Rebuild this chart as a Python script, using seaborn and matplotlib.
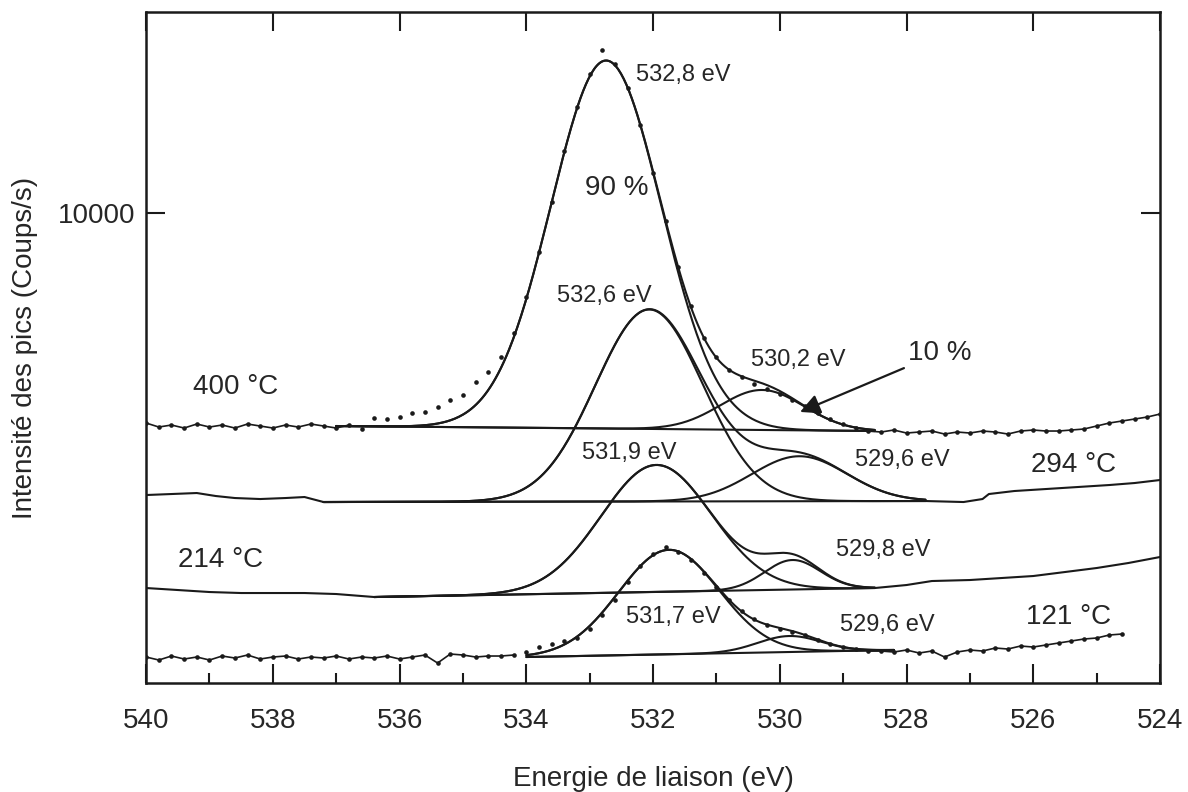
import numpy as np
import seaborn as sns
import matplotlib.pyplot as plt

# ---------------- data (binding energy in eV, intensity in counts/s) ----------------
# 400 °C : measured points
e_400 = np.linspace(540.0, 524.0, 81)
c_400 = [5800, 5720, 5760, 5700, 5780, 5720, 5760, 5700, 5780, 5740,
         5700, 5760, 5720, 5780, 5740, 5700, 5760, 5680, 5900, 5880,
         5920, 6000, 6020, 6120, 6260, 6360, 6620, 6820, 7120, 7600,
         8320, 9220, 10220, 11240, 12120, 12780, 13260, 12980, 12500, 11760,
         10800, 9840, 8920, 8140, 7500, 7120, 6860, 6720, 6580, 6480,
         6380, 6260, 6140, 6000, 5880, 5780, 5700, 5640, 5620, 5660,
         5600, 5620, 5640, 5580, 5620, 5600, 5640, 5620, 5580, 5640,
         5660, 5640, 5640, 5660, 5680, 5740, 5800, 5840, 5880, 5920,
         5980]
# 400 °C : fit (linear background + gaussian components)
base_e_400 = [537.0, 528.5]
base_c_400 = [5740, 5640]
pk_e_400 = [532.74, 530.28]
pk_h_400 = [7360, 800]
pk_w_400 = [0.87, 0.66]

# 294 °C : recorded spectrum outside the fit window
e_294_left = [540.0, 539.6, 539.2, 538.9, 538.6, 538.2, 537.8, 537.5, 537.2]
c_294_left = [4360, 4380, 4400, 4340, 4300, 4280, 4300, 4320, 4220]
e_294_right = [527.7, 527.1, 526.8, 526.7, 526.3, 525.8, 525.3, 524.8, 524.4, 524.0]
c_294_right = [4240, 4220, 4280, 4380, 4440, 4480, 4520, 4560, 4600, 4660]
base_e_294 = [537.2, 527.7]
base_c_294 = [4220, 4240]
pk_e_294 = [532.06, 529.69]
pk_h_294 = [3840, 900]
pk_w_294 = [0.85, 0.75]

# 214 °C
e_214_left = [540.0, 539.5, 539.0, 538.5, 538.0, 537.5, 537.0, 536.6, 536.4]
c_214_left = [2500, 2460, 2420, 2400, 2400, 2400, 2380, 2340, 2320]
e_214_right = [528.5, 528.0, 527.6, 527.0, 526.5, 526.0, 525.5, 525.0, 524.5, 524.0]
c_214_right = [2500, 2560, 2640, 2660, 2700, 2740, 2820, 2900, 3000, 3120]
base_e_214 = [536.4, 528.5]
base_c_214 = [2320, 2500]
pk_e_214 = [531.95, 529.80]
pk_h_214 = [2540, 590]
pk_w_214 = [0.87, 0.44]

# 121 °C : measured points
e_121 = np.linspace(540.0, 524.6, 78)
c_121 = [1120, 1060, 1140, 1080, 1120, 1060, 1140, 1100, 1160, 1080,
         1120, 1140, 1080, 1120, 1100, 1140, 1080, 1120, 1100, 1140,
         1080, 1120, 1160, 1000, 1180, 1160, 1120, 1140, 1140, 1160,
         1220, 1320, 1380, 1440, 1500, 1680, 1960, 2260, 2620, 2940,
         3180, 3320, 3220, 3060, 2800, 2520, 2260, 2040, 1880, 1760,
         1680, 1620, 1560, 1460, 1380, 1320, 1280, 1240, 1240, 1220,
         1260, 1200, 1240, 1120, 1220, 1260, 1240, 1300, 1280, 1340,
         1320, 1360, 1400, 1440, 1480, 1500, 1560, 1580]
base_e_121 = [534.0, 528.2]
base_c_121 = [1120, 1260]
pk_e_121 = [531.75, 529.85]
pk_h_121 = [2090, 320]
pk_w_121 = [0.79, 0.50]

# ---------------- drawing ----------------
sns.set_theme(style='ticks')
plt.rcParams['font.family'] = ['Liberation Sans', 'DejaVu Sans']
LW = 1.5


def gauss(e, c, h, w):
    return h * np.exp(-0.5 * ((e - c) / w) ** 2)


def draw_fit(ax, be, bc, pe, ph, pw):
    grid = np.linspace(be[0], be[1], 400)
    bg = np.interp(grid, be[::-1], bc[::-1])
    comps = [gauss(grid, c, h, w) for c, h, w in zip(pe, ph, pw)]
    sns.lineplot(x=be, y=bc, ax=ax, color='k', lw=LW, sort=False, estimator=None)
    for comp in comps:
        sns.lineplot(x=grid, y=bg + comp, ax=ax, color='k', lw=LW, sort=False, estimator=None)
    sns.lineplot(x=grid, y=bg + np.sum(comps, axis=0), ax=ax, color='k', lw=LW,
                 sort=False, estimator=None)


def draw_line(ax, e, c, lw=LW):
    sns.lineplot(x=e, y=c, ax=ax, color='k', lw=lw, sort=False, estimator=None)


fig, ax = plt.subplots(figsize=(11.88, 7.92), dpi=100)
fig.subplots_adjust(left=0.123, right=0.9764, bottom=0.1376, top=0.9848)

# 400 °C
e4 = np.asarray(e_400)
c4 = np.asarray(c_400)
draw_fit(ax, base_e_400, base_c_400, pk_e_400, pk_h_400, pk_w_400)
draw_line(ax, e4[e4 >= 536.75], c4[e4 >= 536.75], 1.2)
draw_line(ax, e4[e4 <= 528.65], c4[e4 <= 528.65], 1.2)
sns.scatterplot(x=e4, y=c4, ax=ax, color='k', s=11, linewidth=0)

# 294 °C
draw_fit(ax, base_e_294, base_c_294, pk_e_294, pk_h_294, pk_w_294)
draw_line(ax, e_294_left, c_294_left)
draw_line(ax, e_294_right, c_294_right)

# 214 °C
draw_fit(ax, base_e_214, base_c_214, pk_e_214, pk_h_214, pk_w_214)
draw_line(ax, e_214_left, c_214_left)
draw_line(ax, e_214_right, c_214_right)

# 121 °C
e1 = np.asarray(e_121)
c1 = np.asarray(c_121)
draw_fit(ax, base_e_121, base_c_121, pk_e_121, pk_h_121, pk_w_121)
draw_line(ax, e1[e1 >= 534.15], c1[e1 >= 534.15], 1.2)
draw_line(ax, e1[e1 <= 528.65], c1[e1 <= 528.65], 1.2)
sns.scatterplot(x=e1, y=c1, ax=ax, color='k', s=11, linewidth=0)

# annotations
small = 17
big = 20
ax.text(532.27, 12760, '532,8 eV', fontsize=small, ha='left', va='center')
ax.text(532.58, 10500, '90 %', fontsize=big, ha='center', va='center')
ax.text(532.77, 8340, '532,6 eV', fontsize=small, ha='center', va='center')
ax.text(529.71, 7060, '530,2 eV', fontsize=small, ha='center', va='center')
ax.text(527.48, 7200, '10 %', fontsize=big, ha='center', va='center')
ax.annotate('', xy=(529.72, 6000), xytext=(528.0, 6920),
            arrowprops=dict(arrowstyle='-|>', color='k', lw=1.6, mutation_scale=30))
ax.text(528.06, 5060, '529,6 eV', fontsize=small, ha='center', va='center')
ax.text(525.36, 4960, '294 °C', fontsize=big, ha='center', va='center')
ax.text(532.38, 5200, '531,9 eV', fontsize=small, ha='center', va='center')
ax.text(538.58, 6520, '400 °C', fontsize=big, ha='center', va='center')
ax.text(538.83, 3060, '214 °C', fontsize=big, ha='center', va='center')
ax.text(528.36, 3260, '529,8 eV', fontsize=small, ha='center', va='center')
ax.text(531.68, 1920, '531,7 eV', fontsize=small, ha='center', va='center')
ax.text(528.30, 1760, '529,6 eV', fontsize=small, ha='center', va='center')
ax.text(525.45, 1920, '121 °C', fontsize=big, ha='center', va='center')

# axes
ax.set_xlim(540, 524)
ax.set_ylim(600, 14020)
major = np.arange(540, 523, -2)
ax.set_xticks(major)
ax.set_xticklabels([str(int(t)) for t in major])
ax.set_xticks(np.arange(539, 524, -2), minor=True)
ax.set_yticks([10000])
ax.set_yticklabels(['10000'])
ax.tick_params(axis='x', which='major', direction='in', length=14, width=1.5,
               top=True, labelsize=20, pad=18, color='k')
ax.tick_params(axis='x', which='minor', direction='in', length=7, width=1.5,
               top=False, color='k')
ax.tick_params(axis='y', direction='in', length=14, width=1.5, right=True,
               labelsize=20, pad=8, color='k')
for sp in ax.spines.values():
    sp.set_linewidth(1.8)
    sp.set_color('k')
ax.set_xlabel('Energie de liaison (eV)', fontsize=20, labelpad=23)
ax.set_ylabel('Intensité des pics (Coups/s)', fontsize=20, labelpad=14)

fig.savefig('out.png', dpi=100)
